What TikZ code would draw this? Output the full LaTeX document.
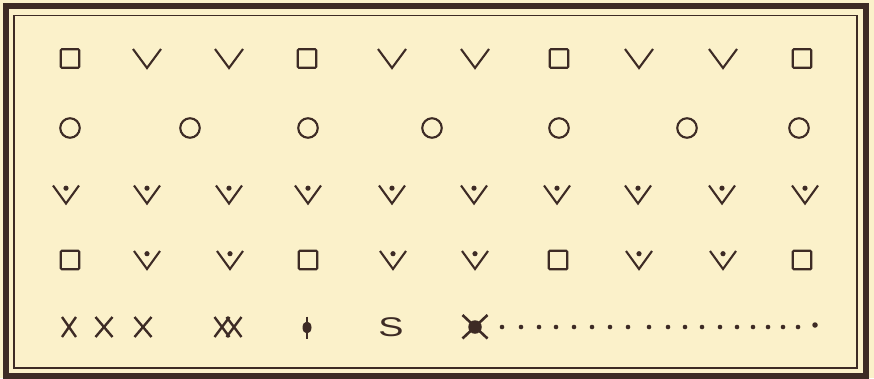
\documentclass[tikz,border=0pt]{standalone}
\usepackage{fontspec}
\newfontfamily\sfont{Liberation Sans}
\definecolor{paper}{HTML}{FBF1CA}
\definecolor{ink}{HTML}{3D2B25}
\begin{document}
\begin{tikzpicture}[x=1pt,y=-1pt,
  sq/.style={draw=ink,line width=2.1pt,minimum size=18.5pt,inner sep=0pt,rounded corners=1pt},
  circ/.style={draw=ink,line width=2.1pt,circle,minimum size=19.5pt,inner sep=0pt},
  dotn/.style={fill=ink,circle,minimum size=4.6pt,inner sep=0pt},
  vee/.pic={\draw[ink,line width=2.1pt] (-14,-9.5) -- (0,9.5) -- (14,-9.5);},
  veedot/.pic={\draw[ink,line width=2.1pt] (-13,-9) -- (0,9) -- (13,-9);
               \fill[ink] (0,-6.3) circle (2.6);},
  xmark/.pic={\draw[ink,line width=2.4pt] (-#1,-10) -- (#1,10) (-#1,10) -- (#1,-10);},
  xmark/.default=8.5
]
\useasboundingbox (0,0) rectangle (874,378);
\fill[paper] (0,0) rectangle (874,378);
% frame
\draw[ink,line width=6pt] (5.5,6) rectangle (866,375.5);
\draw[ink,line width=1.5pt] (14,15.5) rectangle (857,368);
% row 1
\foreach \x [count=\i] in {70,307,559,802}
  \node[sq] (ra\i) at (\x,58.5) {};
\foreach \x [count=\i] in {147,229,392,475,639,723}
  \pic (rav\i) at (\x,58.5) {vee};
% row 2
\foreach \x [count=\i] in {70,190,308,432,559,687,799}
  \node[circ] (rb\i) at (\x,128) {};
% row 3
\foreach \x [count=\i] in {66,147,229,308,392,474,557,638,722,805}
  \pic (rc\i) at (\x,194.5) {veedot};
% row 4
\foreach \x [count=\i] in {70,308,558,802}
  \node[sq] (rd\i) at (\x,260) {};
\foreach \x [count=\i] in {147,230,393,475,639,723}
  \pic (rdv\i) at (\x,260) {veedot};
% row 5
\pic (x1) at (69,327) {xmark=7};
\pic (x2) at (104,327) {xmark=8.5};
\pic (x3) at (143,327) {xmark=8.5};
\pic (xx1) at (222,327) {xmark=7.5};
\pic (xx2) at (234,327) {xmark=7.5};
\draw[ink,line width=2pt] (307,316.5) -- (307,338.5);
\fill[ink] (307,327.5) ellipse (4.5 and 6);
\node[ink,inner sep=0pt,font=\sfont\fontsize{27}{27}\selectfont] (S) at (391,327.5) {\scalebox{1.4}[1]{S}};
\draw[ink,line width=2.6pt] (462.5,315) -- (487.5,338.5) (462.5,338.5) -- (487.5,315);
\node[fill=ink,circle,minimum size=13.5pt,inner sep=0pt] (xd) at (475,327) {};
\foreach \x [count=\i] in {502,521,539,556,574,592,610,628,649,668,685,702,720,737,753,768,783,798}
  \node[dotn] (d\i) at (\x,327) {};
\node[dotn,minimum size=5.5pt] (d19) at (815,325) {};
\end{tikzpicture}
\end{document}
